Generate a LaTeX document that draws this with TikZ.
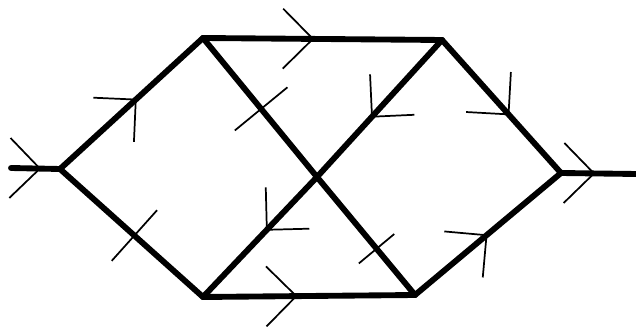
\documentclass[tikz,border=0pt]{standalone}
\usetikzlibrary{decorations.markings}

\begin{document}
\begin{tikzpicture}[x=0.75pt, y=-0.75pt,
	wire/.style={line width=4.4pt, line cap=round},
	thinline/.style={line width=1.3pt, line cap=butt},
	arrow at/.style={postaction={decorate, decoration={markings,
		mark=at position #1 with {\draw[thinline] (-30,30) -- (0,0) -- (-30,-30);}}}},
	tick at/.style 2 args={postaction={decorate, decoration={markings,
		mark=at position #1 with {\draw[thinline] (0,-#2) -- (0,#2);}}}}]
	\useasboundingbox (0,0) rectangle (636,327);
	% junctions
	\coordinate (in) at (11,168);
	\coordinate (L) at (60,169);
	\coordinate (TL) at (203,38);
	\coordinate (TR) at (442,40);
	\coordinate (C) at (317,177);
	\coordinate (R) at (561,173);
	\coordinate (BL) at (203,297);
	\coordinate (BR) at (415,295);
	\coordinate (out) at (636,174);
	% branches
	\draw[wire, arrow at=0.59] (in) -- (L);
	\draw[wire, arrow at=0.53] (L) -- (TL);
	\draw[wire, tick at={0.52}{34}] (L) -- (BL);
	\draw[wire, arrow at=0.46] (TL) -- (TR);
	\draw[wire, tick at={0.51}{34}] (TL) -- (C);
	\draw[wire, tick at={0.61}{23}] (C) -- (BR);
	\draw[wire, arrow at=0.56] (TR) -- (C);
	\draw[wire, arrow at=0.44] (C) -- (BL);
	\draw[wire, arrow at=0.56] (TR) -- (R);
	\draw[wire, arrow at=0.44] (BL) -- (BR);
	\draw[wire, arrow at=0.49] (BR) -- (R);
	\draw[wire, arrow at=0.44] (R) -- (out);
\end{tikzpicture}
\end{document}
